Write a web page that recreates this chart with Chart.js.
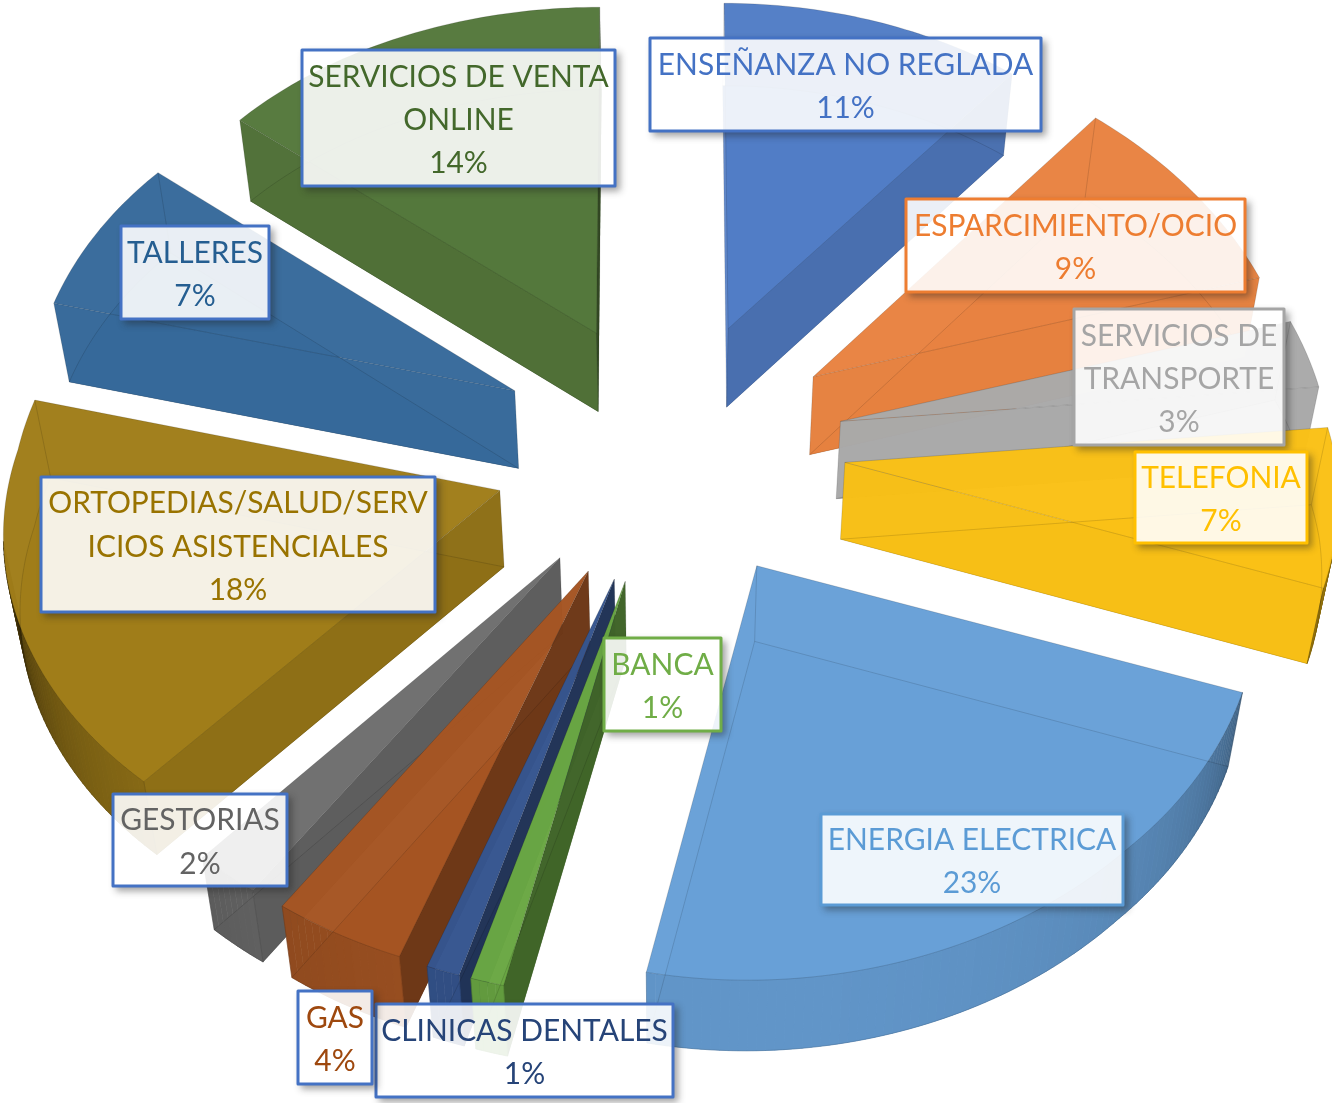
<!DOCTYPE html>
<html><head><meta charset="utf-8">
<script src="https://cdn.jsdelivr.net/npm/chart.js@4/dist/chart.umd.js"></script>
<style>html,body{margin:0;padding:0;background:#fff}canvas{display:block}</style>
</head><body><canvas id="c" width="1332" height="1103"></canvas>
<script>
const categories = ["ENSEÑANZA NO REGLADA","ESPARCIMIENTO/OCIO","SERVICIOS DE TRANSPORTE","TELEFONIA","ENERGIA ELECTRICA","BANCA","CLINICAS DENTALES","GAS","GESTORIAS","ORTOPEDIAS/SALUD/SERVICIOS ASISTENCIALES","TALLERES","SERVICIOS DE VENTA ONLINE"];
const values = [11,9,3,7,23,1,1,4,2,18,7,14];
const labelLines = [["ENSEÑANZA NO REGLADA"],["ESPARCIMIENTO/OCIO"],["SERVICIOS DE","TRANSPORTE"],["TELEFONIA"],["ENERGIA ELECTRICA"],["BANCA"],["CLINICAS DENTALES"],["GAS"],["GESTORIAS"],["ORTOPEDIAS/SALUD/SERV","ICIOS ASISTENCIALES"],["TALLERES"],["SERVICIOS DE VENTA","ONLINE"]];
const faceColors = ["#527dc6","#e98341","#a9a9a9","#fac116","#68a0d7","#6aa743","#35558f","#a55523","#6e6e6e","#a07d19","#376a9b","#55783c"];
const textColors = ["#4472c4","#ed7d31","#a5a5a5","#ffc000","#5b9bd5","#70ad47","#264478","#9e480e","#636363","#997300","#255e91","#43682b"];
const borderColors = ["#4472c4","#ed7d31","#a5a5a5","#ffc000","#5b9bd5","#70ad47","#4472c4","#4472c4","#4472c4","#4472c4","#4472c4","#4472c4"];
const labelBoxes = [[649,37,1042,132],[905,198,1246,293],[1073,308,1285,446],[1134,451,1308,544],[820,813,1124,906],[603,637,722,732],[375,1003,674,1098],[297,990,373,1085],[112,793,288,887],[40,476,436,613],[120,225,270,320],[301,49,616,187]];

const CX=670, CY=450, A=488, B=365, P=0.075, SH=-15, EXPLODE=0.36;
function project(X,Y,low){
  const s=1/(1-P*Y);
  let px=CX+(A*X+SH*Math.max(Y,0))*s, py=CY+B*Y*s;
  // small corrections for the lens of the original 3D view
  px+=-11*Math.max(0,-X)*Math.max(0,-Y)+7*Math.max(0,X-0.9);
  py+=24*Math.max(0,X-0.9)-15*Math.max(0,-X)*Math.max(0,Y)-2*Math.max(0,-Y);
  if(low){ px=CX+(px-CX)*0.975; py=py+77-(py-CY)*0.012; }
  return [px,py];
}
function shade(hex,f){
  const n=parseInt(hex.slice(1),16);
  return [(n>>16&255)*f,(n>>8&255)*f,(n&255)*f].map(Math.round);
}
function rgba(c,a){return `rgba(${c[0]},${c[1]},${c[2]},${a})`;}
function wallShade(ny){
  const d=Math.asin(Math.min(1,Math.max(0,ny)))*180/Math.PI;
  return Math.min(1,0.2+0.82*(1-Math.exp(-d/22)));
}
function poly(ctx,pts){
  ctx.beginPath();
  pts.forEach((p,i)=>i?ctx.lineTo(p[0],p[1]):ctx.moveTo(p[0],p[1]));
  ctx.closePath();
}
function line(ctx,pts){
  ctx.beginPath();
  pts.forEach((p,i)=>i?ctx.lineTo(p[0],p[1]):ctx.moveTo(p[0],p[1]));
}
const pie3d={
  id:'pie3d',
  beforeDatasetsDraw(chart){
    const ctx=chart.ctx, meta=chart.getDatasetMeta(0);
    const slices=meta.data.map((arc,i)=>({i,a0:arc.startAngle,a1:arc.endAngle,mid:(arc.startAngle+arc.endAngle)/2}));
    slices.sort((u,v)=>Math.sin(u.mid)-Math.sin(v.mid));
    ctx.save();
    ctx.lineJoin='round';
    for(const s of slices){
      const col=faceColors[s.i];
      const ex=EXPLODE*Math.cos(s.mid), ey=EXPLODE*Math.sin(s.mid);
      const n=Math.max(2,Math.ceil((s.a1-s.a0)/(Math.PI/180)));
      const ang=[]; for(let k=0;k<=n;k++) ang.push(s.a0+(s.a1-s.a0)*k/n);
      const rim=low=>ang.map(a=>project(ex+Math.cos(a),ey+Math.sin(a),low));
      const apexT=project(ex,ey,false), apexL=project(ex,ey,true);
      const rimT=rim(false), rimL=rim(true);
      // bottom face
      poly(ctx,[apexL,...rimL]); ctx.fillStyle=rgba(shade(col,1),0.9); ctx.fill();
      // radial walls
      const ns=-Math.cos(s.a0), ne=Math.cos(s.a1);
      if(ns>0){ poly(ctx,[apexT,rimT[0],rimL[0],apexL]); ctx.fillStyle=rgba(shade(col,Math.max(0.6,wallShade(ns))),0.99); ctx.fill(); }
      if(ne>0){ poly(ctx,[apexT,rimT[n],rimL[n],apexL]); ctx.fillStyle=rgba(shade(col,Math.max(0.6,wallShade(ne))),0.99); ctx.fill(); }
      // outer wall strips
      for(let k=0;k<n;k++){
        const am=(ang[k]+ang[k+1])/2, ny=Math.sin(am);
        if(ny<=0.15) continue;
        poly(ctx,[rimT[k],rimT[k+1],rimL[k+1],rimL[k]]);
        let f=wallShade(ny);
        if(Math.cos(am)<0) f=Math.pow(f,1.6);
        const c=rgba(shade(col,f*0.93),1);
        ctx.fillStyle=c; ctx.strokeStyle=c; ctx.lineWidth=0.6; ctx.fill(); ctx.stroke();
      }
      // top face
      poly(ctx,[apexT,...rimT]); ctx.fillStyle=rgba(shade(col,1),0.98); ctx.fill();
      // see-through lines of the lower outline
      ctx.strokeStyle='rgba(0,0,0,0.13)'; ctx.lineWidth=1;
      poly(ctx,[apexL,...rimL]); ctx.stroke();
      line(ctx,[apexT,apexL]); ctx.stroke();
      line(ctx,[rimT[0],rimL[0]]); ctx.stroke();
      line(ctx,[rimT[n],rimL[n]]); ctx.stroke();
      // top outline
      ctx.strokeStyle='rgba(0,0,0,0.14)'; ctx.lineWidth=1;
      poly(ctx,[apexT,...rimT]); ctx.stroke();
    }
    // labels
    ctx.textAlign='center'; ctx.textBaseline='alphabetic'; ctx.font='31px Lato';
    const total=values.reduce((p,c)=>p+c,0);
    categories.forEach((_,i)=>{
      const [x1,y1,x2,y2]=labelBoxes[i];
      // shadow only outside the box, so the glass stays clean
      ctx.save();
      ctx.beginPath(); ctx.rect(0,0,1332,1103); ctx.rect(x1,y1,x2-x1,y2-y1); ctx.clip('evenodd');
      ctx.shadowColor='rgba(30,30,30,0.42)'; ctx.shadowBlur=7; ctx.shadowOffsetX=4; ctx.shadowOffsetY=4;
      ctx.fillStyle='#fff';
      ctx.fillRect(x1,y1,x2-x1,y2-y1);
      ctx.restore();
      ctx.fillStyle='rgba(255,255,255,0.89)';
      ctx.fillRect(x1,y1,x2-x1,y2-y1);
      ctx.strokeStyle=borderColors[i]; ctx.lineWidth=3;
      ctx.strokeRect(x1+1,y1+1,x2-x1-2,y2-y1-2);
      const lines=[...labelLines[i],Math.round(values[i]/total*100)+'%'];
      const cx=(x1+x2)/2, cy=(y1+y2)/2, lh=43.2;
      ctx.fillStyle=textColors[i];
      lines.forEach((t,k)=>{
        const w=ctx.measureText(t).width;
        ctx.fillText(t,cx,cy+(k-(lines.length-1)/2)*lh+12,w*0.965);
      });
    });
    ctx.restore();
    return false;
  }
};
new Chart(document.getElementById('c'),{
  type:'pie',
  data:{labels:categories,datasets:[{data:values,backgroundColor:faceColors}]},
  options:{responsive:false,animation:false,layout:{padding:0},
    plugins:{legend:{display:false},tooltip:{enabled:false}}},
  plugins:[pie3d]
});
</script></body></html>
